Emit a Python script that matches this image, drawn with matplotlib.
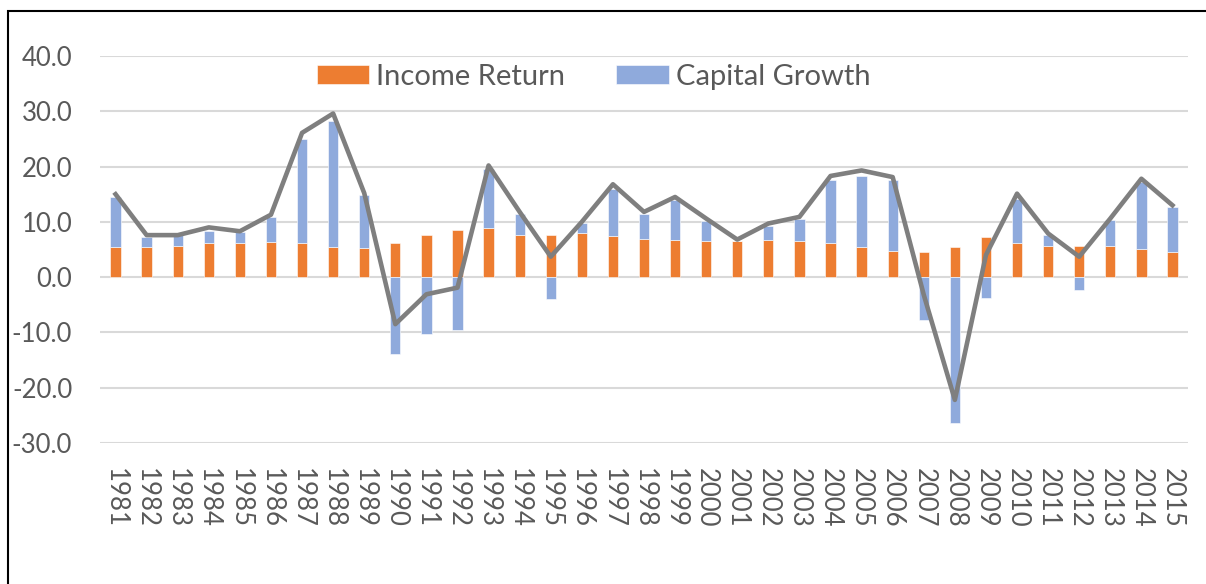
import matplotlib
matplotlib.use("Agg")
import matplotlib.pyplot as plt
import numpy as np

years = [str(y) for y in range(1981, 2016)]
income_return = [5.4, 5.4, 5.7, 6.1, 6.2, 6.4, 6.1, 5.5, 5.2, 6.1,
                 7.7, 8.6, 8.9, 7.7, 7.7, 7.9, 7.5, 6.9, 6.7, 6.6,
                 6.6, 6.7, 6.6, 6.2, 5.5, 4.8, 4.5, 5.5, 7.3, 6.2,
                 5.7, 5.7, 5.7, 5.1, 4.6]
capital_growth = [9.1, 1.9, 1.9, 2.2, 2.0, 4.5, 18.8, 22.8, 9.6, -13.9,
                  -10.2, -9.6, 10.7, 3.8, -4.0, 1.9, 8.5, 4.5, 7.2, 3.6,
                  0.0, 2.5, 3.9, 11.3, 12.8, 12.7, -7.8, -26.3, -3.7, 8.0,
                  2.0, -2.3, 4.7, 12.1, 8.0]
total_return = [15.0, 7.6, 7.6, 9.0, 8.3, 11.3, 26.1, 29.6, 15.2, -8.5,
                -3.1, -1.9, 20.2, 11.8, 3.7, 10.0, 16.8, 11.8, 14.5, 10.6,
                6.8, 9.7, 10.9, 18.3, 19.3, 18.1, -3.2, -22.2, 4.0, 15.1,
                7.9, 3.7, 10.6, 17.8, 13.0]

plt.rcParams['font.family'] = ['Lato', 'DejaVu Sans']
W, H = 1206, 584
fig = plt.figure(figsize=(W / 100, H / 100), dpi=100)
ax = fig.add_axes([100 / W, (H - 443) / H, 1088 / W, 387 / H])

x = np.arange(len(years))
inc = np.array(income_return)
cap = np.array(capital_growth)
cap_bottom = np.where(cap >= 0, inc, 0)
bw = 0.33
ax.bar(x, inc, width=bw, color='#ED7D31', label='Income Return', zorder=2,
       edgecolor='white', linewidth=0.4)
ax.bar(x, cap, width=bw, bottom=cap_bottom, color='#8FAADC', label='Capital Growth',
       zorder=2, edgecolor='white', linewidth=0.4)
ax.plot(x, total_return, color='#7F7F7F', linewidth=3.3, zorder=3, solid_joinstyle='round')

ax.set_xlim(-0.5, len(years) - 0.5)
ax.set_ylim(-30, 40)
ax.set_yticks(np.arange(-30, 41, 10))
ax.set_yticklabels([f"{v:.1f}" for v in np.arange(-30, 41, 10)])
ax.yaxis.grid(True, color='#D9D9D9', linewidth=1.5, zorder=0)
ax.set_axisbelow(True)
for s in ax.spines.values():
    s.set_visible(False)
ax.tick_params(axis='both', length=0, labelsize=18.5, colors='#595959')
ax.tick_params(axis='y', pad=20)
ax.set_xticks(x)
ax.set_xticklabels(years, rotation=-90, va='top', ha='center')
ax.tick_params(axis='x', pad=18)

leg = ax.legend(loc='center', bbox_to_anchor=(0.4536, 0.946), ncol=2, frameon=False,
                fontsize=21, handlelength=1.8, handleheight=0.6, handletextpad=0.24,
                columnspacing=1.75, borderaxespad=0)
for t in leg.get_texts():
    t.set_color('#595959')

border = plt.Rectangle((8 / W, -0.1), 1.2, (H - 11) / H + 0.1, transform=fig.transFigure,
                       fill=False, edgecolor='black', linewidth=1.5, clip_on=False)
fig.patches.append(border)

fig.savefig('out.png', dpi=100, facecolor='white')
